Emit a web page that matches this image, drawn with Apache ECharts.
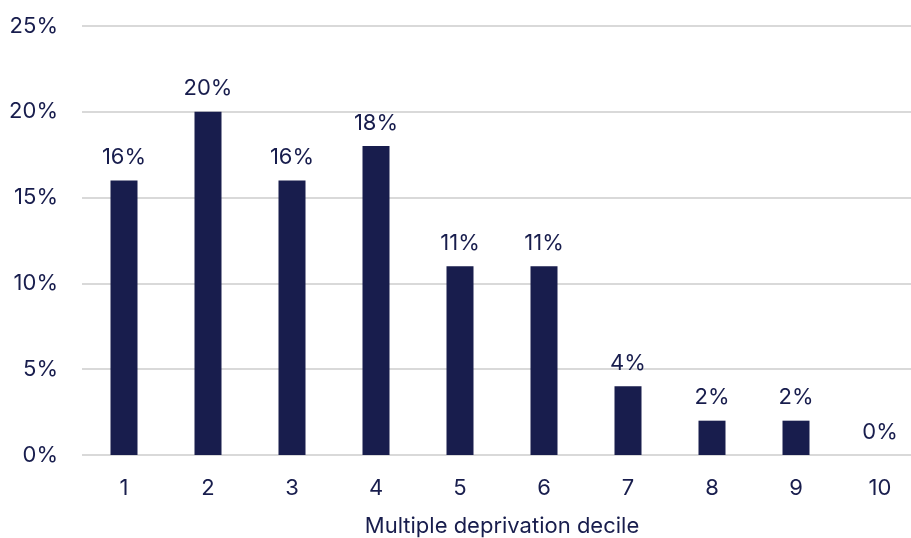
<!DOCTYPE html>
<html>
<head>
<meta charset="utf-8">
<script src="https://cdn.jsdelivr.net/npm/echarts@6/dist/echarts.min.js"></script>
<style>
  html, body { margin: 0; padding: 0; background: #fff; }
  #main { width: 911px; height: 538px; }
</style>
</head>
<body>
<div id="main"></div>
<script>
const deciles = ['1', '2', '3', '4', '5', '6', '7', '8', '9', '10'];
const shares = [16, 20, 16, 18, 11, 11, 4, 2, 2, 0];

const navy = '#181d4d';
const font = 'Inter, Roboto, sans-serif';

const chart = echarts.init(document.getElementById('main'));
chart.setOption({
  animation: false,
  // grid runs a little past the right edge, like the original
  grid: { left: 82, width: 840, top: 26, bottom: 83, outerBoundsMode: 'none', containLabel: false },
  xAxis: {
    type: 'category',
    data: deciles,
    name: 'Multiple deprivation decile',
    nameLocation: 'middle',
    nameGap: 60,
    nameTextStyle: { color: navy, fontSize: 22, fontFamily: font },
    axisLine: { show: false },
    axisTick: { show: false },
    axisLabel: { color: navy, fontSize: 22, fontFamily: font, margin: 22 }
  },
  yAxis: {
    type: 'value',
    min: 0,
    max: 25,
    interval: 5,
    axisLabel: { formatter: '{value}%', color: navy, fontSize: 22, fontFamily: font, margin: 24 },
    splitLine: { lineStyle: { color: '#d9d9d9', width: 2 } }
  },
  series: [{
    type: 'bar',
    data: shares,
    barWidth: 27,
    itemStyle: { color: navy },
    label: {
      show: true,
      position: 'top',
      distance: 12,
      formatter: '{c}%',
      color: navy,
      fontSize: 22,
      fontFamily: font
    }
  }]
});
</script>
</body>
</html>
